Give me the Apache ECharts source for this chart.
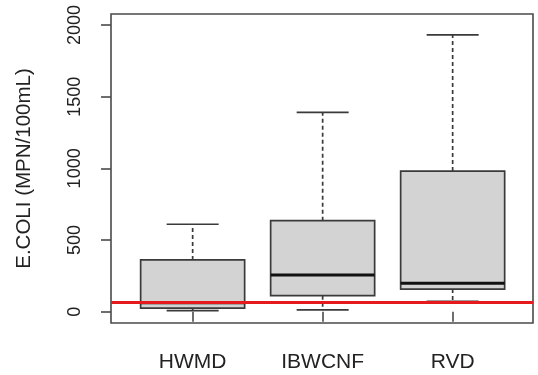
<!DOCTYPE html>
<html>
<head>
<meta charset="utf-8">
<script src="https://cdn.jsdelivr.net/npm/echarts@6/dist/echarts.min.js"></script>
<style>
  html, body { margin: 0; padding: 0; background: #fff; }
  #chart { width: 538px; height: 375px; }
</style>
</head>
<body>
<div id="chart"></div>
<script>
// values
var categories = ['HWMD', 'IBWCNF', 'RVD']
var whiskerLow = [7, 12, 72]
var q1 = [25, 112, 158]
var median = [63, 256, 198]
var q3 = [361, 635, 981]
var whiskerHigh = [610, 1391, 1932]
var yTicks = [0, 500, 1000, 1500, 2000]
var refValue = 63

var boxData = categories.map(function (c, i) {
  return [i + 1, whiskerLow[i], q1[i], median[i], q3[i], whiskerHigh[i]]
})

function renderBox (params, api) {
  var x = api.value(0)
  var lo = api.value(1)
  var b1 = api.value(2)
  var md = api.value(3)
  var b3 = api.value(4)
  var hi = api.value(5)
  var tl = api.coord([x - 0.4, b3])
  var br = api.coord([x + 0.4, b1])
  var cx = api.coord([x, 0])[0]
  var capL = api.coord([x - 0.2, 0])[0]
  var capR = api.coord([x + 0.2, 0])[0]
  var yLo = api.coord([x, lo])[1]
  var yHi = api.coord([x, hi])[1]
  var yMd = api.coord([x, md])[1]
  var dark = '#3a3a3a'
  var dash = { stroke: dark, lineWidth: 1.7, lineDash: [4, 3] }
  var solid = { stroke: dark, lineWidth: 1.7 }
  return {
    type: 'group',
    children: [
      { type: 'line', shape: { x1: cx, y1: tl[1], x2: cx, y2: yHi }, style: dash },
      { type: 'line', shape: { x1: cx, y1: br[1], x2: cx, y2: yLo }, style: dash },
      { type: 'line', shape: { x1: capL, y1: yHi, x2: capR, y2: yHi }, style: solid },
      { type: 'line', shape: { x1: capL, y1: yLo, x2: capR, y2: yLo }, style: solid },
      {
        type: 'rect',
        shape: { x: tl[0], y: tl[1], width: br[0] - tl[0], height: br[1] - tl[1] },
        style: { fill: '#d3d3d3', stroke: dark, lineWidth: 1.7 }
      },
      { type: 'line', shape: { x1: tl[0], y1: yMd, x2: br[0], y2: yMd }, style: { stroke: '#111', lineWidth: 3 } }
    ]
  }
}

var chart = echarts.init(document.getElementById('chart'))
chart.setOption({
  animation: false,
  grid: {
    left: 111,
    right: 5,
    top: 14,
    bottom: 52,
    show: true,
    borderColor: '#4a4a4a',
    borderWidth: 1.6,
    backgroundColor: 'transparent'
  },
  xAxis: {
    type: 'value',
    min: 0.372,
    max: 3.618,
    axisLine: { show: false },
    splitLine: { show: false },
    axisTick: {
      show: true,
      customValues: [1, 2, 3],
      length: 10,
      lineStyle: { color: '#4a4a4a', width: 1.6 }
    },
    axisLabel: {
      customValues: [1, 2, 3],
      margin: 29,
      fontFamily: 'Liberation Sans',
      fontSize: 21,
      color: '#222',
      formatter: function (v) { return categories[Math.round(v) - 1] }
    }
  },
  yAxis: {
    type: 'value',
    min: -79,
    max: 2077,
    name: 'E.COLI (MPN/100mL)',
    nameLocation: 'middle',
    nameRotate: 90,
    nameGap: 76,
    nameTextStyle: { fontFamily: 'Liberation Sans', fontSize: 20.5, color: '#222' },
    axisLine: { show: false },
    splitLine: { show: false },
    axisTick: {
      show: true,
      customValues: yTicks,
      length: 10,
      lineStyle: { color: '#4a4a4a', width: 1.6 }
    },
    axisLabel: {
      customValues: yTicks,
      rotate: 90,
      margin: 27,
      fontFamily: 'Liberation Sans',
      fontSize: 18,
      color: '#222',
      formatter: function (v) { return String(v) }
    }
  },
  series: [{
    type: 'custom',
    renderItem: renderBox,
    data: boxData,
    encode: { x: 0, y: [1, 2, 3, 4, 5] },
    markLine: {
      silent: true,
      symbol: 'none',
      label: { show: false },
      lineStyle: { color: '#e41a1c', width: 3.2, type: 'solid' },
      data: [{ yAxis: refValue }]
    }
  }]
})
</script>
</body>
</html>
